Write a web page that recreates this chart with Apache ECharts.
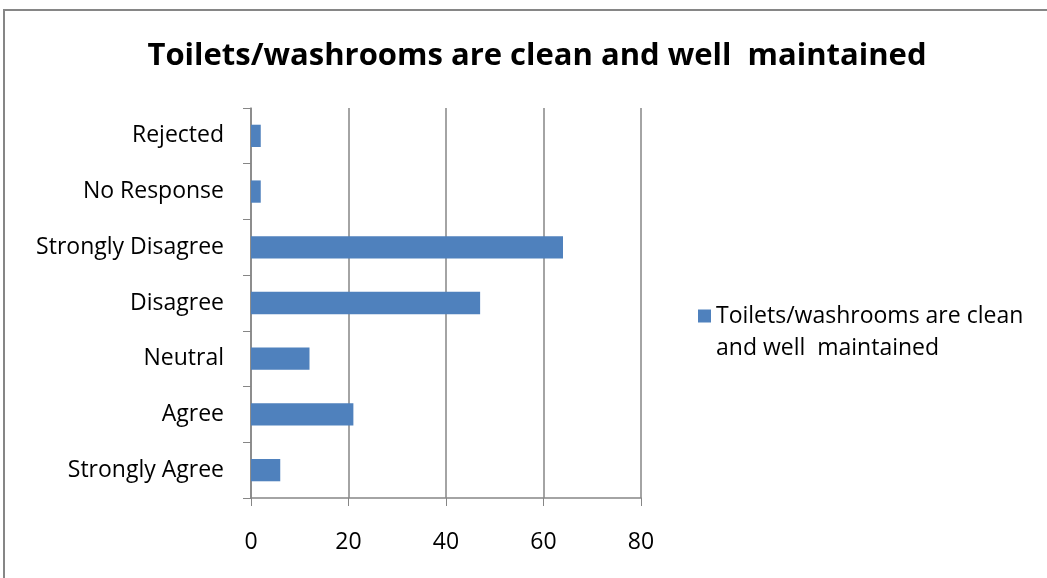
<!DOCTYPE html>
<html>
<head>
<meta charset="utf-8">
<script src="https://cdn.jsdelivr.net/npm/echarts@6/dist/echarts.min.js"></script>
<style>
  html, body { margin: 0; padding: 0; background: #fff; }
  #chart { width: 1047px; height: 578px; position: relative; }
  /* frame of the original chart, only top and left edges visible */
  .frame { position: absolute; left: 3px; top: 9px; width: 1100px; height: 600px;
           border-left: 2px solid #868686; border-top: 2px solid #868686; pointer-events: none; }
</style>
</head>
<body>
<div id="chart"></div>
<div class="frame"></div>
<script>
const title = 'Toilets/washrooms are clean and well  maintained'
const categories = ['Rejected', 'No Response', 'Strongly Disagree', 'Disagree', 'Neutral', 'Agree', 'Strongly Agree']
const values = [2, 2, 64, 47, 12, 21, 6]
const xTicks = [0, 20, 40, 60, 80]

const font = '"Open Sans", Lato, sans-serif'
const gridColor = '#868686'

const chart = echarts.init(document.getElementById('chart'))
const option = {
  animation: false,
  title: {
    text: title,
    left: 532,
    textAlign: 'center',
    top: 36,
    textStyle: { fontFamily: font, fontSize: 31, fontWeight: 'bold', color: '#000' }
  },
  legend: {
    left: 698,
    top: 268,
    padding: 0,
    icon: 'rect',
    itemWidth: 13,
    itemHeight: 13,
    // leading empty line keeps the square level with the first line
    formatter: () => '\nToilets/washrooms are clean\nand well  maintained',
    textStyle: { fontFamily: font, fontSize: 23, color: '#000', lineHeight: 32 }
  },
  grid: { left: 251, top: 108, width: 390, height: 390, containLabel: false },
  xAxis: {
    type: 'value',
    min: xTicks[0],
    max: xTicks[xTicks.length - 1],
    interval: 20,
    axisLine: { show: true, lineStyle: { color: gridColor, width: 1.5 } },
    axisTick: { show: true, length: 8, lineStyle: { color: gridColor } },
    splitLine: { show: true, lineStyle: { color: gridColor, width: 1.5 } },
    axisLabel: { fontFamily: font, fontSize: 23, color: '#000', margin: 33 }
  },
  yAxis: {
    type: 'category',
    inverse: true,
    data: categories,
    axisLine: { show: true, lineStyle: { color: gridColor, width: 1.5 } },
    axisTick: { show: true, length: 8, lineStyle: { color: gridColor } },
    axisLabel: { fontFamily: font, fontSize: 23, color: '#000', margin: 27, padding: [3, 0, 0, 0] }
  },
  series: [
    {
      name: title,
      type: 'bar',
      data: values,
      barCategoryGap: '60%',
      itemStyle: { color: '#4F81BD' }
    }
  ]
}
chart.setOption(option)
</script>
</body>
</html>
